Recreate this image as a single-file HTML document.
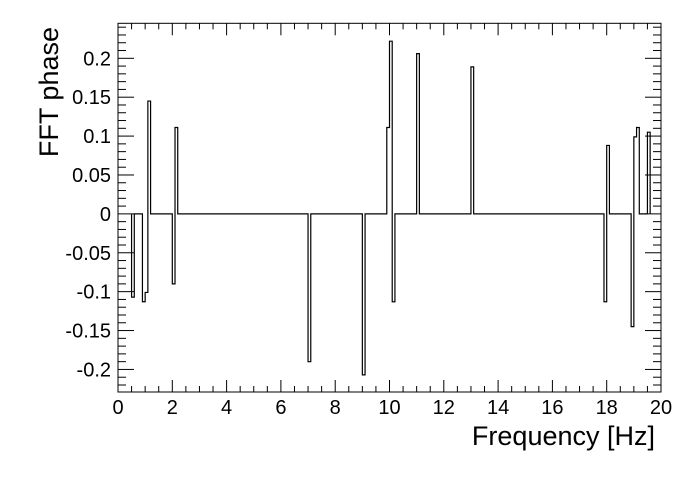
<!DOCTYPE html>
<html><head><meta charset="utf-8"><style>
html,body{margin:0;padding:0;background:#fff;}
svg text{font-family:"Liberation Sans",sans-serif;fill:#000;}
</style></head><body>
<svg id="chart" width="696" height="473" viewBox="0 0 696 473" xmlns="http://www.w3.org/2000/svg">
<rect x="0" y="0" width="696" height="473" fill="#fff"/>
<g id="axes"></g>
<path id="hist" fill="none" stroke="#000" stroke-width="1.2"/>
<text x="655" y="445" font-size="27" text-anchor="end">Frequency [Hz]</text>
<text transform="translate(58,27) rotate(-90)" font-size="27" text-anchor="end">FFT phase</text>
</svg>
<script>
// bins of width 0.1 Hz starting at binStart; values = phase
const binStart = 0.5;
const binWidth = 0.1;
const binEdgesEnd = 19.6;
const peakBins = [0.5, 0.9, 1.0, 1.1, 2.0, 2.1, 7.0, 9.0, 9.9, 10.0, 10.1, 11.0, 13.0, 17.9, 18.0, 18.9, 19.0, 19.1, 19.5];
const peakValues = [-0.107, -0.113, -0.101, 0.145, -0.090, 0.111, -0.190, -0.207, 0.111, 0.222, -0.113, 0.206, 0.189, -0.113, 0.088, -0.145, 0.099, 0.111, 0.105];
const xTicks = [0, 2, 4, 6, 8, 10, 12, 14, 16, 18, 20];
const yTicks = [-0.2, -0.15, -0.1, -0.05, 0, 0.05, 0.1, 0.15, 0.2];
const yTickLabels = ["-0.2", "-0.15", "-0.1", "-0.05", "0", "0.05", "0.1", "0.15", "0.2"];

const L = 118, R = 661, T = 23.3, B = 392;
const xMin = 0, xMax = 20, yMin = -0.2290, yMax = 0.2450;
const sx = v => L + (v - xMin) / (xMax - xMin) * (R - L);
const sy = v => B - (v - yMin) / (yMax - yMin) * (B - T);
const NS = "http://www.w3.org/2000/svg";
const axes = document.getElementById('axes');
function line(x1, y1, x2, y2, name) {
  const l = document.createElementNS(NS, 'line');
  l.setAttribute('x1', x1); l.setAttribute('y1', y1); l.setAttribute('x2', x2); l.setAttribute('y2', y2);
  l.setAttribute('stroke', '#000'); l.setAttribute('stroke-width', '1');
  
  
  axes.appendChild(l);
}
function text(x, y, s, anchor, name) {
  const t = document.createElementNS(NS, 'text');
  t.setAttribute('x', x); t.setAttribute('y', y); t.setAttribute('font-size', '20'); t.setAttribute('text-anchor', anchor);
  t.textContent = s;
  
  
  axes.appendChild(t);
}
const fr = document.createElementNS(NS, 'rect');
fr.setAttribute('x', L); fr.setAttribute('y', T); fr.setAttribute('width', R - L); fr.setAttribute('height', B - T);
fr.setAttribute('fill', 'none'); fr.setAttribute('stroke', '#000'); fr.setAttribute('stroke-width', '1');


axes.appendChild(fr);
for (let k = 0; k <= 40; k++) {
  const v = k * 0.5; const x = sx(v); const major = k % 4 === 0; const h = major ? 12 : 6;
  line(x, B, x, B - h, 'x-tick');
  line(x, T, x, T + h, 'x-tick-top');
}
xTicks.forEach(v => text(sx(v), 414, String(v), 'middle', 'x-tick-label'));
for (let k = -22; k <= 24; k++) {
  const v = k * 0.01; const y = sy(v); const major = k % 5 === 0; const w = major ? 16 : 8;
  line(L, y, L + w, y, 'y-tick');
  line(R, y, R - w, y, 'y-tick-right');
}
yTicks.forEach((v, i) => text(111, sy(v) + 7, yTickLabels[i], 'end', 'y-tick-label'));
const nb = Math.round((binEdgesEnd - binStart) / binWidth);
const vals = new Array(nb).fill(0);
peakBins.forEach((b, i) => { const idx = Math.round((b - binStart) / binWidth); if (idx >= 0 && idx < nb) vals[idx] = peakValues[i]; });
let d = `M${sx(binStart)},${sy(0)}`;
for (let i = 0; i < nb; i++) {
  const x0 = sx(binStart + i * binWidth), x1 = sx(binStart + (i + 1) * binWidth), y = sy(vals[i]);
  d += ` L${x0},${y} L${x1},${y}`;
}
d += ` L${sx(binEdgesEnd)},${sy(0)}`;
document.getElementById('hist').setAttribute('d', d);
</script>
</body></html>
